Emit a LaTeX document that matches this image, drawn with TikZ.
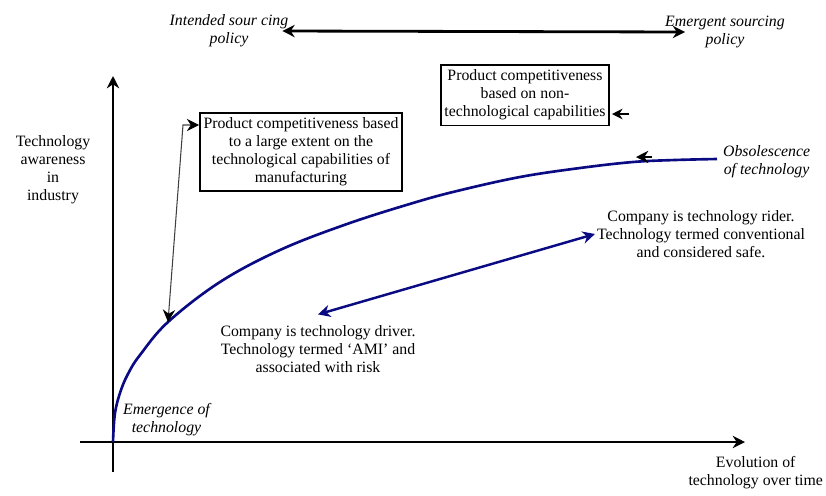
\documentclass[tikz,border=0pt]{standalone}
\usepackage{fontspec}
\setmainfont{Liberation Serif}
\usetikzlibrary{arrows.meta,positioning,calc}

\definecolor{techblue}{RGB}{10,10,130}

\tikzset{
	lbl/.style={align=center, inner sep=1pt, font=\fontsize{9}{10.2}\selectfont},
	tag/.style={lbl, font=\fontsize{9}{10.2}\selectfont\itshape},
	infobox/.style={lbl, draw, line width=1pt, inner xsep=2pt, inner ysep=3pt},
	axis/.style={line width=1.6pt, -{Stealth[length=7pt,width=7pt]}},
	twoway/.style={line width=1.6pt, {Stealth[length=7pt,width=7pt]}-{Stealth[length=7pt,width=7pt]}},
	tech/.style={line width=1.5pt, draw=techblue}
}

\begin{document}
\begin{tikzpicture}[x=0.02cm, y=-0.02cm]
	\useasboundingbox (0,0) rectangle (826,495);

	% axes
	\coordinate (o) at (113,442);
	\draw[axis] (113,472) -- (113,76);
	\draw[axis] (80,442) -- (745,442);
	\node[lbl] (yname) at (53,170) {Technology\\awareness\\in\\industry};
	\node[lbl, anchor=east] (xname) at (825,473) {Evolution of\\technology over time};

	% sourcing policy
	\node[tag] (intended) at (229,31) {Intended sour cing\\policy};
	\node[tag] (emergent) at (725,32) {Emergent sourcing\\policy};
	\draw[twoway] ($(intended.east)+(-8,0)$) -- ($(emergent.west)+(22,0)$);

	% technology curve
	\draw[tech] plot[smooth, tension=0.6] coordinates {
		(113,442) (115,413) (121,390) (129,372) (140,355) (168,322)
		(220,282) (280,250) (347,224) (413,203) (457,191) (520,177)
		(580,168) (633,162) (675,160) (717,159)};
	\coordinate (endtech) at (717,159);
	\node[tag, anchor=west] (emerge) at (121,420) {Emergence of\\technology};
	\node[tag, anchor=west] (obsolete) at (721,162) {Obsolescence\\of technology};
	\coordinate (obs1) at (652,157);
	\coordinate (obs2) at (636,157);
	\draw[line width=0.8pt, -{Stealth[length=7pt,width=7pt]}] (obs1) -- (obs2);

	% competitiveness boxes
	\node[infobox] (techbox) at (301,152) {Product competitiveness based\\to a large extent on the\\technological capabilities of\\manufacturing};
	\node[infobox] (nontechbox) at (525,95) {Product competitiveness\\based on non-\\technological capabilities};
	\coordinate (oncurve) at (168,322);
	\coordinate (bend) at (183,125);
	\draw[line width=0.6pt, black!75, {Stealth[length=7pt,width=7pt,black]}-{Stealth[length=7pt,width=7pt,black]}]
		(oncurve) -- (bend) -- (bend -| techbox.west);
	\coordinate (nt1) at (629,114);
	\coordinate (nt2) at (612,114);
	\draw[line width=1pt, -{Stealth[length=6pt,width=6pt]}] (nt1) -- (nt2);

	% driver / rider
	\node[lbl] (driver) at (318,349) {Company is technology driver.\\Technology termed `AMI' and\\associated with risk};
	\node[lbl] (rider) at (701,234) {Company is technology rider.\\Technology termed conventional\\and considered safe.};
	\draw[twoway, line width=1.4pt, techblue]
		($(driver.north)+(0,-9)$) -- (rider.west);
\end{tikzpicture}
\end{document}
